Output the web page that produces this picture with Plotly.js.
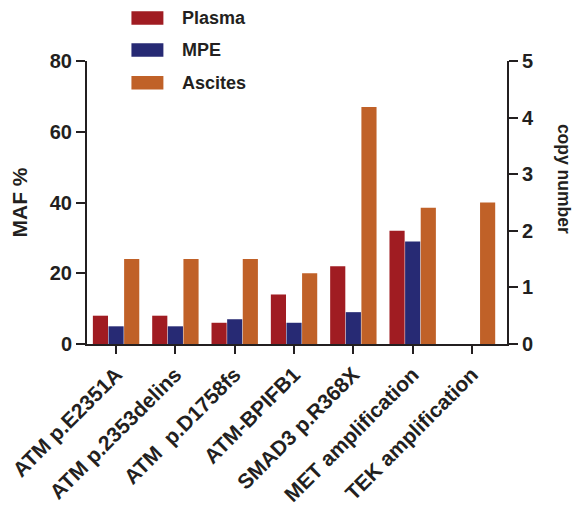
<!DOCTYPE html>
<html>
<head>
<meta charset="utf-8">
<script src="https://cdn.plot.ly/plotly-3.0.1.min.js"></script>
<style>html,body{margin:0;padding:0;background:#fff;}#chart{width:573px;height:508px;}</style>
</head>
<body>
<div id="chart"></div>
<script>
const categories = ["ATM p.E2351A", "ATM p.2353delins", "ATM  p.D1758fs", "ATM-BPIFB1", "SMAD3 p.R368X", "MET amplification", "TEK amplification"];
const seriesNames = ["Plasma", "MPE", "Ascites"];
const plasma = [8, 8, 6, 14, 22, 32, null];
const mpe = [5, 5, 7, 6, 9, 29, null];
const ascites = [24, 24, 24, 20, 67, 38.5, 40];
const colors = ["#a01c22", "#272a74", "#c06128"];
const leftTicks = [0, 20, 40, 60, 80];
const rightTicks = [0, 1, 2, 3, 4, 5];

const FONT = "Liberation Sans, Arial, sans-serif";
const ink = "#231f20";
const values = [plasma, mpe, ascites];

const traces = values.map((v, i) => ({
  type: "bar", x: categories, y: v, name: seriesNames[i],
  marker: {color: colors[i], line: {width: 0}}, showlegend: false
}));

const shapes = [], annotations = [];
const legendY = [1.152, 1.039, 0.923];
seriesNames.forEach((n, i) => {
  shapes.push({type: "rect", xref: "paper", yref: "paper",
    x0: 0.1058, x1: 0.1819, y0: legendY[i] - 0.024, y1: legendY[i] + 0.024,
    fillcolor: colors[i], line: {width: 0}});
  annotations.push({xref: "paper", yref: "paper", x: 0.2224, y: legendY[i],
    xanchor: "left", yanchor: "middle", showarrow: false, text: n,
    font: {family: FONT, size: 18, color: ink, weight: "bold"}});
});
annotations.push({xref: "paper", yref: "paper", x: 1.136, y: 0.583, showarrow: false,
  textangle: 90, text: "copy number", xanchor: "center", yanchor: "middle",
  borderpad: 0,
  font: {family: FONT, size: 17.5, color: ink, weight: "bold"}});

const layout = {
  width: 573, height: 508,
  margin: {l: 86.5, r: 66, t: 61, b: 164},
  paper_bgcolor: "#fff", plot_bgcolor: "#fff",
  barmode: "group", bargap: 0.21, bargroupgap: 0.03,
  showlegend: false,
  font: {family: FONT, color: ink},
  xaxis: {
    type: "category", range: [-0.49, 6.59],
    showline: true, linewidth: 2, linecolor: ink,
    ticks: "outside", ticklen: 8, tickwidth: 2, tickcolor: ink,
    tickangle: -45, tickfont: {family: FONT, size: 21, color: ink, weight: "bold"},
    showgrid: false, zeroline: false, fixedrange: true
  },
  yaxis: {
    range: [0, 80], tickvals: leftTicks, ticktext: leftTicks.map(String),
    showline: true, linewidth: 2, linecolor: ink,
    ticks: "outside", ticklen: 9, tickwidth: 2, tickcolor: ink,
    tickfont: {family: FONT, size: 20, color: ink, weight: "bold"},
    showgrid: false, zeroline: false,
    title: {text: "MAF %", font: {family: FONT, size: 21, color: ink, weight: "bold"}, standoff: 16}
  },
  yaxis2: {
    overlaying: "y", side: "right", anchor: "x",
    range: [0, 5], tickvals: rightTicks, ticktext: rightTicks.map(String),
    showline: true, linewidth: 2, linecolor: ink,
    ticks: "outside", ticklen: 9, tickwidth: 2, tickcolor: ink,
    tickfont: {family: FONT, size: 20, color: ink, weight: "bold"},
    showgrid: false, zeroline: false
  },
  shapes: shapes, annotations: annotations
};

traces.push({type: "scatter", x: [categories[0]], y: [0], yaxis: "y2", mode: "markers",
  marker: {opacity: 0}, showlegend: false, hoverinfo: "skip"});

Plotly.newPlot("chart", traces, layout, {staticPlot: true});
</script>
</body>
</html>
